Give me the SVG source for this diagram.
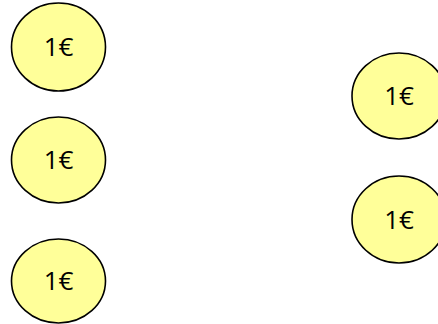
<svg xmlns="http://www.w3.org/2000/svg" width="438" height="324" viewBox="0 0 438 324">
<style>
.coin{fill:#FFFF99;stroke:#000;stroke-width:1.6}
.lbl{font-family:"Open Sans","Liberation Sans",sans-serif;font-size:26px;fill:#000;text-anchor:middle}
</style>
<rect width="438" height="324" fill="#fff"/>
<g id="connectors"></g>
<g id="coin1"><ellipse class="coin" cx="58.5" cy="47" rx="47" ry="44"/><text class="lbl" x="58.5" y="56">1€</text></g>
<g id="coin2"><ellipse class="coin" cx="58.5" cy="160" rx="47" ry="43"/><text class="lbl" x="58.5" y="169">1€</text></g>
<g id="coin3"><ellipse class="coin" cx="58.5" cy="281" rx="47" ry="42"/><text class="lbl" x="58.5" y="290">1€</text></g>
<g id="coin4"><ellipse class="coin" cx="399" cy="96" rx="47" ry="43"/><text class="lbl" x="399" y="105">1€</text></g>
<g id="coin5"><ellipse class="coin" cx="399" cy="219.5" rx="47" ry="43.5"/><text class="lbl" x="399" y="228.5">1€</text></g>
</svg>
